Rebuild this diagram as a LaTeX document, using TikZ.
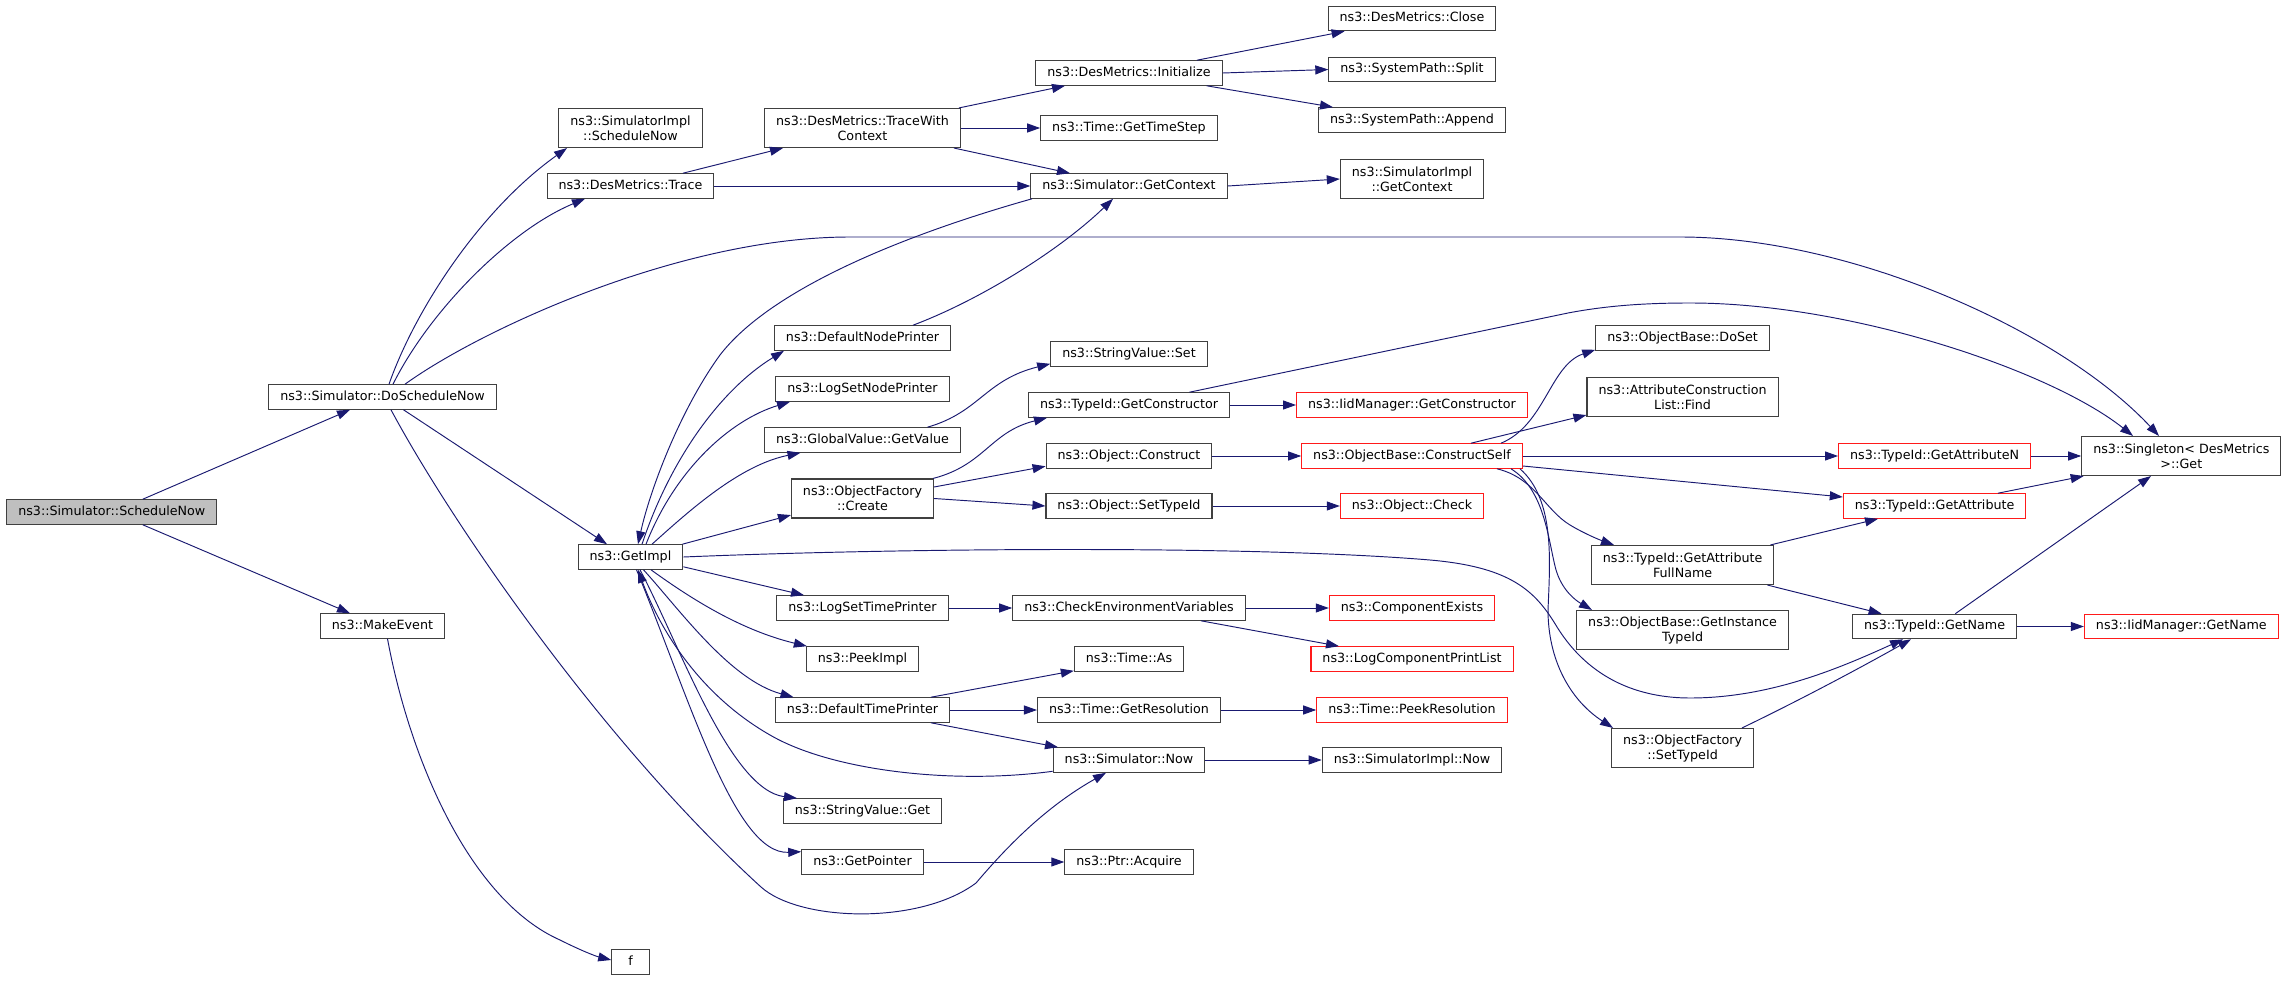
\documentclass[tikz,border=0pt]{standalone}
\usepackage{fontspec}
\setmainfont{DejaVu Sans}
\usetikzlibrary{arrows.meta}
\definecolor{edgeblue}{HTML}{191970}
\definecolor{boxgray}{HTML}{404040}
\definecolor{boxred}{HTML}{FF1A1A}
\definecolor{rootfill}{HTML}{BFBFBF}
\begin{document}
\begin{tikzpicture}[x=1pt,y=-1pt,
  base/.style={draw=boxgray, line width=1.1pt, fill=white, inner xsep=11.5pt, inner ysep=0pt, font=\fontsize{12.7}{15}\selectfont},
  one/.style={base, minimum height=24.5pt, text height=9.4pt, text depth=2.6pt},
  two/.style={base, minimum height=39pt, align=center},
  redb/.style={draw=boxred},
  root/.style={fill=rootfill},
  ed/.style={draw=edgeblue, line width=0.95pt, -{Triangle[length=13pt,width=9pt]}}]
\useasboundingbox (0,0) rectangle (2288,981);
% rank 0,1,2
\node[one,root] (sn) at (111.8,512) {ns3::Simulator::ScheduleNow};
\node[one] (dsn) at (382.5,397) {ns3::Simulator::DoScheduleNow};
\node[one] (mev) at (382.5,626) {ns3::MakeEvent};
\node[two] (sisn) at (630.5,128) {ns3::SimulatorImpl\\::ScheduleNow};
\node[one] (tr) at (630.5,186) {ns3::DesMetrics::Trace};
\node[one] (gi) at (630.5,557) {ns3::GetImpl};
\node[one, minimum width=37.5pt] (ff) at (630.5,962) {f};
% rank 3
\node[two] (twc) at (862.5,128) {ns3::DesMetrics::TraceWith\\Context};
\node[one] (dnp) at (862.5,338) {ns3::DefaultNodePrinter};
\node[one] (lsnp) at (862.5,389) {ns3::LogSetNodePrinter};
\node[one] (gv) at (862.5,440) {ns3::GlobalValue::GetValue};
\node[two] (ofc) at (862.5,498.5) {ns3::ObjectFactory\\::Create};
\node[one] (lstp) at (862.5,608) {ns3::LogSetTimePrinter};
\node[one] (pk) at (862.5,659) {ns3::PeekImpl};
\node[one] (dtp) at (862.5,710) {ns3::DefaultTimePrinter};
\node[one] (svg) at (862.5,811) {ns3::StringValue::Get};
\node[one] (gp) at (862.5,862) {ns3::GetPointer};
% rank 4
\node[one] (ini) at (1129,73) {ns3::DesMetrics::Initialize};
\node[one] (gts) at (1129,128) {ns3::Time::GetTimeStep};
\node[one] (gctx) at (1129,186) {ns3::Simulator::GetContext};
\node[one] (svs) at (1129,354) {ns3::StringValue::Set};
\node[one] (gcons) at (1129,405) {ns3::TypeId::GetConstructor};
\node[one] (ocon) at (1129,456) {ns3::Object::Construct};
\node[one] (osti) at (1129,506) {ns3::Object::SetTypeId};
\node[one] (cev) at (1129,608) {ns3::CheckEnvironmentVariables};
\node[one] (tas) at (1129,659) {ns3::Time::As};
\node[one] (gres) at (1129,710) {ns3::Time::GetResolution};
\node[one] (now) at (1129,760) {ns3::Simulator::Now};
\node[one] (acq) at (1129,862) {ns3::Ptr::Acquire};
% rank 5
\node[one] (clo) at (1412,18.5) {ns3::DesMetrics::Close};
\node[one] (spl) at (1412,69.5) {ns3::SystemPath::Split};
\node[one] (app) at (1412,120) {ns3::SystemPath::Append};
\node[two] (sigc) at (1412,179) {ns3::SimulatorImpl\\::GetContext};
\node[one,redb] (iidgc) at (1412,405) {ns3::IidManager::GetConstructor};
\node[one,redb] (cself) at (1412,456) {ns3::ObjectBase::ConstructSelf};
\node[one,redb] (ochk) at (1412,506) {ns3::Object::Check};
\node[one,redb] (cex) at (1412,608) {ns3::ComponentExists};
\node[one,redb] (lcpl) at (1412,659) {ns3::LogComponentPrintList};
\node[one,redb] (pres) at (1412,710) {ns3::Time::PeekResolution};
\node[one] (sinow) at (1412,760) {ns3::SimulatorImpl::Now};
% rank 6
\node[one] (doset) at (1682.6,338) {ns3::ObjectBase::DoSet};
\node[two] (acl) at (1682.6,397) {ns3::AttributeConstruction\\List::Find};
\node[two] (gafn) at (1682.6,565) {ns3::TypeId::GetAttribute\\FullName};
\node[two] (gitid) at (1682.6,630) {ns3::ObjectBase::GetInstance\\TypeId};
\node[two] (ofst) at (1682.6,748) {ns3::ObjectFactory\\::SetTypeId};
% rank 7
\node[one,redb] (gan) at (1934.6,456) {ns3::TypeId::GetAttributeN};
\node[one,redb] (gattr) at (1934.6,506) {ns3::TypeId::GetAttribute};
\node[one] (gname) at (1934.6,626.5) {ns3::TypeId::GetName};
% rank 8
\node[two] (sing) at (2181.3,456) {ns3::Singleton< DesMetrics\\ >::Get};
\node[one,redb] (iidgn) at (2181.3,626.5) {ns3::IidManager::GetName};
% edges
\draw[ed] ([xshift=31pt]sn.north) -- ([xshift=-32.5pt]dsn.south);
\draw[ed] ([xshift=31pt]sn.south) -- ([xshift=-32.5pt]mev.north);
\draw[ed] ([xshift=6.5pt]dsn.north) .. controls (415,310) and (480,210) .. ([xshift=-63.5pt]sisn.south);
\draw[ed] ([xshift=10.5pt]dsn.north) .. controls (430,310) and (510,230) .. ([xshift=-45.5pt]tr.south);
\draw[ed] ([xshift=22.5pt]dsn.north) .. controls (480,330) and (680,237) .. (850,237) -- (1680,237) .. controls (1850,237) and (2060,330) .. ([xshift=-22.3pt]sing.north);
\draw[ed] ([xshift=21pt]dsn.south) -- ([xshift=-23.5pt]gi.north);
\draw[ed] ([xshift=8.5pt]dsn.south) .. controls (450,520) and (600,740) .. (761,887) .. controls (800,922) and (920,925) .. (976,883) .. controls (1000,855) and (1040,810) .. ([xshift=-23pt]now.south);
\draw[ed] ([xshift=5pt]mev.south) .. controls (410,760) and (470,900) .. (560,940) .. controls (580,950) and (595,956) .. ([yshift=2pt]ff.west);
\draw[ed] ([xshift=52.5pt]tr.north) -- ([xshift=-79.5pt]twc.south);
\draw[ed] (tr.east) -- (gctx.west);
\draw[ed] ([xshift=-2pt]twc.north east) -- ([xshift=-64pt]ini.south);
\draw[ed] (twc.east) -- (gts.west);
\draw[ed] ([xshift=91.5pt]twc.south) -- ([xshift=-59pt]gctx.north);
\draw[ed] ([xshift=68pt]ini.north) -- ([xshift=-67.4pt]clo.south);
\draw[ed] (ini.east) -- (spl.west);
\draw[ed] ([xshift=77.7pt]ini.south) -- ([xshift=-79pt]app.north);
\draw[ed] (gctx.east) -- (sigc.west);
\draw[ed] ([xshift=-97pt]gctx.south) .. controls (900,236) and (770,290) .. (720,355) .. controls (680,410) and (650,490) .. ([xshift=7.5pt]gi.north);
\draw[ed] ([xshift=11.5pt]gi.north) .. controls (670,460) and (720,390) .. ([xshift=-78.5pt]dnp.south);
\draw[ed] ([xshift=15.5pt]gi.north) .. controls (675,470) and (730,420) .. ([xshift=-72.5pt]lsnp.south);
\draw[ed] ([xshift=21.5pt]gi.north) .. controls (690,510) and (740,465) .. ([xshift=-62pt]gv.south);
\draw[ed] ([xshift=-1pt]gi.north east) -- ([yshift=3.5pt]ofc.south west);
\draw[ed] (gi.east) .. controls (900,548) and (1250,545) .. (1430,560) .. controls (1510,567) and (1535,590) .. (1557,627) .. controls (1590,680) and (1640,698) .. (1690,698) .. controls (1770,698) and (1840,668) .. ([xshift=-31.6pt]gname.south);
\draw[ed] ([yshift=3pt]gi.south east) -- ([xshift=-58.5pt]lstp.north);
\draw[ed] ([xshift=20.5pt]gi.south) .. controls (690,598) and (740,630) .. ([xshift=1pt]pk.north west);
\draw[ed] ([xshift=13pt]gi.south) .. controls (680,610) and (730,680) .. ([xshift=-69pt]dtp.north);
\draw[ed] ([xshift=9.5pt]gi.south) .. controls (680,645) and (730,790) .. ([xshift=-65.5pt]svg.north);
\draw[ed] ([xshift=6pt]gi.south) .. controls (690,700) and (735,855) .. ([yshift=-2.5pt]gp.north west);
\draw[ed] ([yshift=1.5pt]now.south west) .. controls (950,785) and (830,770) .. (770,735) .. controls (700,695) and (660,630) .. ([xshift=7.5pt]gi.south);
\draw[ed] ([xshift=50.5pt]dnp.north) .. controls (980,300) and (1060,250) .. ([xshift=-16pt]gctx.south);
\draw[ed] ([xshift=65pt]gv.north) .. controls (980,412) and (985,380) .. ([yshift=3pt]svs.south west);
\draw[ed] ([xshift=-1pt]ofc.north east) .. controls (985,465) and (990,432) .. ([xshift=-82pt]gcons.south);
\draw[ed] ([yshift=11.5pt]ofc.east) -- ([yshift=2.5pt]ocon.south west);
\draw[ed] (ofc.east) -- (osti.west);
\draw[ed] (gcons.east) -- (iidgc.west);
\draw[ed] ([xshift=60.5pt]gcons.north) -- (1568,313) .. controls (1610,305) and (1650,303) .. (1690,303) .. controls (1850,303) and (2050,370) .. ([xshift=-48.3pt]sing.north);
\draw[ed] (ocon.east) -- (cself.west);
\draw[ed] (osti.east) -- (ochk.west);
\draw[ed] ([xshift=89pt]cself.north) .. controls (1545,425) and (1550,365) .. ([yshift=1pt]doset.south west);
\draw[ed] ([xshift=59pt]cself.north) -- ([yshift=2pt]acl.south west);
\draw[ed] (cself.east) -- (gan.west);
\draw[ed] ([yshift=-10pt]cself.east) -- ([yshift=9pt]gattr.west);
\draw[ed] ([xshift=85pt]cself.south) .. controls (1535,478) and (1545,510) .. (1570,525) .. controls (1585,534) and (1600,540) .. ([xshift=-68.6pt]gafn.north);
\draw[ed] ([xshift=99pt]cself.south) .. controls (1545,490) and (1548,540) .. (1556,570) .. controls (1562,590) and (1575,600) .. ([xshift=-90.6pt]gitid.north);
\draw[ed] ([xshift=108pt]cself.south) .. controls (1555,500) and (1550,560) .. (1548,610) .. controls (1548,660) and (1570,700) .. ([xshift=2pt]ofst.north west);
\draw[ed] ([xshift=-4pt]gafn.north east) -- ([xshift=-56.6pt]gattr.south);
\draw[ed] ([xshift=-7pt]gafn.south east) -- ([xshift=-53pt]gname.north);
\draw[ed] ([xshift=59.4pt]ofst.north) .. controls (1800,700) and (1860,668) .. ([xshift=-23.6pt]gname.south);
\draw[ed] (gan.east) -- (sing.west);
\draw[ed] ([xshift=63.4pt]gattr.north) -- ([xshift=2.5pt]sing.south west);
\draw[ed] ([xshift=20.7pt]gname.north) -- ([xshift=-30.3pt]sing.south);
\draw[ed] (gname.east) -- (iidgn.west);
\draw[ed] (lstp.east) -- (cev.west);
\draw[ed] (cev.east) -- (cex.west);
\draw[ed] ([xshift=72pt]cev.south) -- ([xshift=-73pt]lcpl.north);
\draw[ed] ([xshift=68.5pt]dtp.north) -- ([yshift=1pt]tas.south west);
\draw[ed] (dtp.east) -- (gres.west);
\draw[ed] ([xshift=68.5pt]dtp.south) -- ([xshift=-71pt]now.north);
\draw[ed] (gres.east) -- (pres.west);
\draw[ed] (now.east) -- (sinow.west);
\draw[ed] (gp.east) -- (acq.west);
\end{tikzpicture}
\end{document}
